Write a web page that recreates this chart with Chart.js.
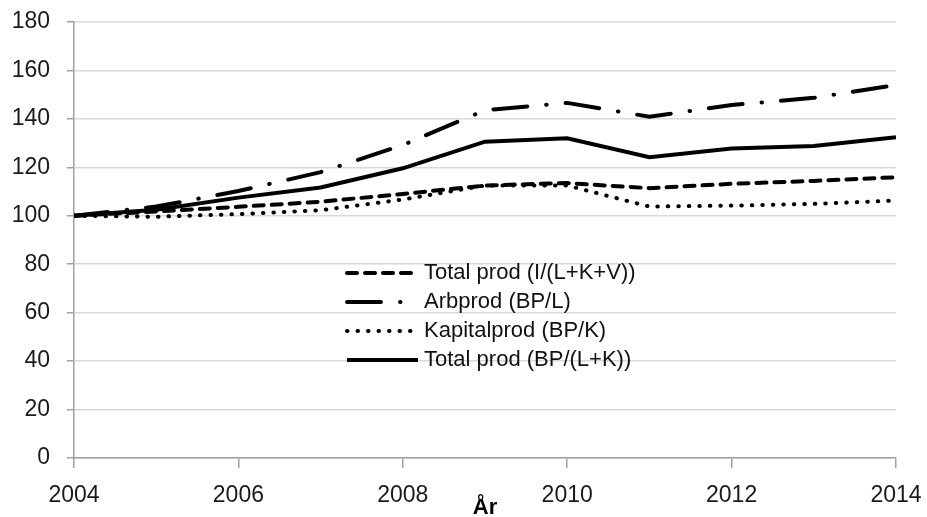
<!DOCTYPE html>
<html>
<head>
<meta charset="utf-8">
<script src="https://cdn.jsdelivr.net/npm/chart.js@4/dist/chart.umd.min.js"></script>
<style>
  html, body { margin: 0; padding: 0; background: #fff; }
  #wrap { width: 927px; height: 517px; position: relative; }
</style>
</head>
<body>
<div id="wrap"><canvas id="prodChart"></canvas></div>
<script>
const years = [2004, 2005, 2006, 2007, 2008, 2009, 2010, 2011, 2012, 2013, 2014];
const totalProdILKV = [100, 101.8, 103.7, 105.8, 109, 112.5, 113.5, 111.4, 113.2, 114.4, 115.9];
const arbProd = [100, 103.8, 110.2, 118, 129.2, 143.6, 146.6, 140.9, 145.7, 148.7, 154];
const kapitalProd = [100, 99.6, 100.7, 102.3, 106.7, 112.5, 112.5, 103.8, 104.2, 104.9, 106.3];
const totalProdBPLK = [100, 102.5, 107.5, 111.7, 119.6, 130.6, 132, 124.2, 127.8, 128.8, 132.4];
const seriesNames = ['Total prod (I/(L+K+V))', 'Arbprod (BP/L)', 'Kapitalprod (BP/K)', 'Total prod (BP/(L+K))'];

const FONT = 'Liberation Sans, Arial, sans-serif';
const AXIS = '#a0a0a0';

const toPoints = vals => vals.map((v, i) => ({ x: years[i], y: v }));

const lineBase = {
    borderColor: '#000',
    borderWidth: 4,
    pointRadius: 0,
    fill: false,
    tension: 0
};

// legend drawn inside the plot, gridlines show through it (no box)
const innerLegend = {
    id: 'innerLegend',
    afterDatasetsDraw(chart) {
        const ctx = chart.ctx;
        const x0 = 347, x1 = 418, tx = 424;
        const rows = [273, 302, 331, 360];
        ctx.save();
        chart.data.datasets.forEach((ds, i) => {
            const y = rows[i];
            ctx.beginPath();
            ctx.lineWidth = ds.borderWidth;
            ctx.strokeStyle = ds.borderColor;
            ctx.lineCap = ds.borderCapStyle || 'butt';
            ctx.setLineDash(ds.borderDash || []);
            ctx.moveTo(x0, y);
            ctx.lineTo(x1, y);
            ctx.stroke();
            ctx.setLineDash([]);
            ctx.fillStyle = '#111';
            ctx.font = '22px ' + FONT;
            ctx.textBaseline = 'middle';
            ctx.textAlign = 'left';
            ctx.fillText(ds.label, tx, y);
        });
        ctx.restore();
    }
};

new Chart(document.getElementById('prodChart'), {
    type: 'line',
    data: {
        datasets: [
            { ...lineBase, label: seriesNames[0], data: toPoints(totalProdILKV), borderDash: [10, 8], borderCapStyle: 'round' },
            { ...lineBase, label: seriesNames[1], data: toPoints(arbProd), borderDash: [34, 19, 0.5, 19], borderCapStyle: 'round' },
            { ...lineBase, label: seriesNames[2], data: toPoints(kapitalProd), borderDash: [0.5, 10], borderCapStyle: 'round' },
            { ...lineBase, label: seriesNames[3], data: toPoints(totalProdBPLK) }
        ]
    },
    options: {
        responsive: true,
        maintainAspectRatio: false,
        animation: false,
        layout: { padding: { top: 22, right: 31, left: 0, bottom: 0 } },
        plugins: {
            legend: { display: false },
            tooltip: { enabled: false }
        },
        scales: {
            x: {
                type: 'linear',
                min: 2004,
                max: 2014,
                afterFit: s => { s.height = 59; s.paddingLeft = 0; s.paddingRight = 0; },
                border: { color: AXIS, width: 1.5 },
                grid: { drawOnChartArea: false, tickLength: 10, color: AXIS, lineWidth: 1.5 },
                ticks: {
                    stepSize: 2,
                    autoSkip: false,
                    maxRotation: 0,
                    padding: 14,
                    color: '#1a1a1a',
                    font: { family: FONT, size: 23 },
                    callback: v => String(v)
                },
                title: {
                    display: true,
                    text: 'År',
                    color: '#000',
                    font: { family: FONT, size: 22, weight: 'bold' },
                    padding: { top: 0, bottom: -4 }
                }
            },
            y: {
                min: 0,
                max: 180,
                afterFit: s => { s.width = 74; s.paddingTop = 0; s.paddingBottom = 0; },
                border: { color: AXIS, width: 1.5 },
                grid: { color: '#d9d9d9', lineWidth: 1.5, tickLength: 7, tickColor: AXIS },
                ticks: {
                    stepSize: 20,
                    padding: 17,
                    color: '#1a1a1a',
                    font: { family: FONT, size: 23 }
                }
            }
        }
    },
    plugins: [innerLegend]
});
</script>
</body>
</html>
